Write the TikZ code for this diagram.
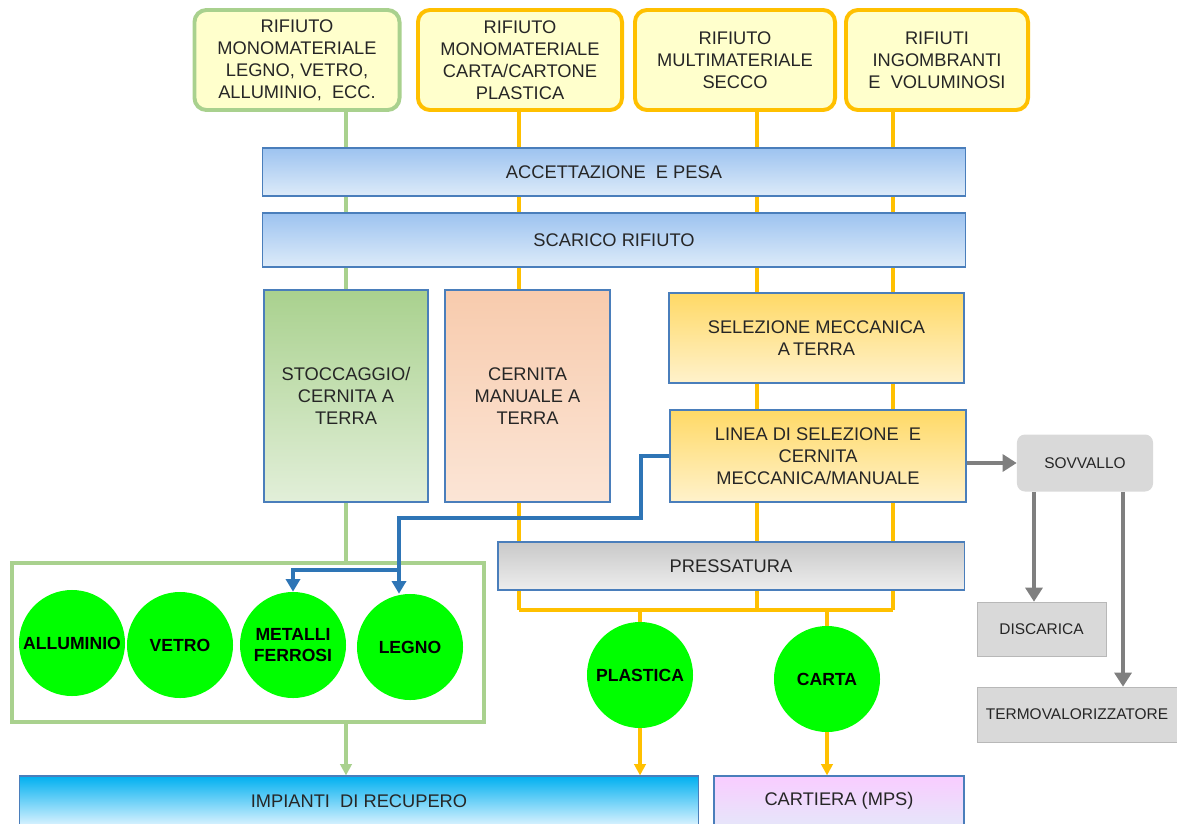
\documentclass[tikz,border=0pt]{standalone}
\usepackage{fontspec}
\setmainfont{Liberation Sans}
\usetikzlibrary{arrows.meta,backgrounds}

\definecolor{paleyellow}{HTML}{FFFFCC}
\definecolor{greenedge}{HTML}{A9D18E}
\definecolor{orangeedge}{HTML}{FFC000}
\definecolor{frameblue}{HTML}{4A7EBB}
\definecolor{txtgray}{HTML}{262626}
\definecolor{ballgreen}{HTML}{00FF00}
\definecolor{flowblue}{HTML}{2E75B6}
\definecolor{flowgray}{HTML}{7F7F7F}
\definecolor{boxgray}{HTML}{D9D9D9}
\definecolor{bluetop}{HTML}{9DC3F0}
\definecolor{bluebot}{HTML}{DDEBF9}
\definecolor{greentop}{HTML}{A9D18E}
\definecolor{greenbot}{HTML}{E2EFD9}
\definecolor{peachtop}{HTML}{F8CBAD}
\definecolor{peachmid}{HTML}{F4B183}
\definecolor{peachbot}{HTML}{FBE5D6}
\definecolor{yellowtop}{HTML}{FFD966}
\definecolor{yellowbot}{HTML}{FFF2CC}
\definecolor{graytop}{HTML}{C9C9C9}
\definecolor{graybot}{HTML}{EDEDED}
\definecolor{cyantop}{HTML}{00B0F0}
\definecolor{cyanmid}{HTML}{CCFCFF}
\definecolor{cyanbot}{HTML}{DDF3FF}
\definecolor{pinktop}{HTML}{F9CCFF}
\definecolor{pinkbot}{HTML}{E6E6FA}

\begin{document}
\begin{tikzpicture}[x=0.025cm,y=-0.025cm,
  every node/.style={font=\fontsize{13}{15.6}\selectfont,text=txtgray,align=center,inner sep=0pt},
  topbox/.style={draw,rounded corners=0.3cm,line width=2.8pt,fill=paleyellow,minimum height=2.5cm},
  phase/.style={draw=frameblue,line width=0.8pt},
  bluebar/.style={phase,minimum width=17.55cm,top color=bluetop,bottom color=bluebot},
  ball/.style={circle,fill=ballgreen,minimum size=2.65cm,font=\bfseries\fontsize{12.5}{15}\selectfont,text=black},
  greyout/.style={fill=boxgray,font=\fontsize{11}{13}\selectfont},
  greenline/.style={draw=greenedge,line width=2.8pt},
  orangeline/.style={draw=orangeedge,line width=2.8pt},
  bluearrow/.style={draw=flowblue,line width=2.8pt,-{Triangle[length=9pt,width=10pt]}},
  grayarrow/.style={draw=flowgray,line width=2.8pt,-{Triangle[length=10pt,width=12pt]}}
]
\useasboundingbox (0,0) rectangle (1177,823);

% waste streams
\node[topbox,draw=greenedge,minimum width=5.125cm] (rmono) at (297,60) {RIFIUTO\\MONOMATERIALE\\LEGNO, VETRO,\\ALLUMINIO,\ \ ECC.};
\node[topbox,draw=orangeedge,minimum width=5.1cm] (rcarta) at (520,60) {RIFIUTO\\MONOMATERIALE\\CARTA/CARTONE\\PLASTICA};
\node[topbox,draw=orangeedge,minimum width=5.0cm] (rmulti) at (735,60) {RIFIUTO\\MULTIMATERIALE\\SECCO};
\node[topbox,draw=orangeedge,minimum width=4.55cm] (ringo) at (937,60) {RIFIUTI\\INGOMBRANTI\\E\ \ VOLUMINOSI};

% plant steps
\node[bluebar,minimum height=1.2cm] (pesa) at (614,172) {ACCETTAZIONE\ \ E PESA};
\node[bluebar,minimum height=1.35cm] (scarico) at (614,240) {SCARICO RIFIUTO};
\node[phase,top color=greentop,bottom color=greenbot,minimum width=4.1cm,minimum height=5.3cm] (stocc) at (346,396) {STOCCAGGIO/\\CERNITA A\\TERRA};
\node[phase,top color=peachtop,middle color=peachmid,bottom color=peachbot,minimum width=4.125cm,minimum height=5.3cm] (cernita) at (527.5,396) {CERNITA\\MANUALE A\\TERRA};
\node[phase,top color=yellowtop,bottom color=yellowbot,minimum width=7.375cm,minimum height=2.25cm] (selez) at (816.5,338) {SELEZIONE MECCANICA\\A\,TERRA};
\node[phase,top color=yellowtop,bottom color=yellowbot,minimum width=7.4cm,minimum height=2.3cm] (linea) at (818,456) {LINEA DI SELEZIONE\ \ E\\CERNITA\\MECCANICA/MANUALE};
\node[phase,top color=graytop,bottom color=graybot,minimum width=11.65cm,minimum height=1.2cm] (press) at (731,566) {PRESSATURA};

% recovered materials
\node[draw=greenedge,line width=2.8pt,minimum width=11.8cm,minimum height=3.975cm] (gruppo) at (248,642.5) {};
\node[ball] (allum) at (72,643) {ALLUMINIO};
\node[ball] (vetro) at (180,645) {VETRO};
\node[ball] (metalli) at (293,645) {METALLI\\FERROSI};
\node[ball] (legno) at (410,647) {LEGNO};
\node[ball] (plastica) at (640,675) {PLASTICA};
\node[ball] (carta) at (827,679) {CARTA};

% destinations
\node[phase,top color=cyantop,middle color=cyanmid,bottom color=cyanbot,minimum width=16.95cm,minimum height=1.25cm] (impianti) at (359,801) {IMPIANTI\ \ DI RECUPERO};
\node[phase,top color=pinktop,bottom color=pinkbot,minimum width=6.25cm,minimum height=1.25cm] (cartiera) at (839,801) {CARTIERA (MPS)};
\node[greyout,rounded corners=0.2cm,minimum width=3.4cm,minimum height=1.425cm] (sovvallo) at (1085,463) {SOVVALLO};
\node[greyout,draw=boxgray!85!black,line width=0.4pt,minimum width=3.225cm,minimum height=1.35cm] (discarica) at (1041.5,629) {DISCARICA};
\node[greyout,draw=boxgray!85!black,line width=0.4pt,minimum width=5.0cm,minimum height=1.375cm] (termo) at (1077,714.5) {TERMOVALORIZZATORE};

\coordinate (busw) at (519,610);
\coordinate (busm) at (757,610);
\coordinate (buse) at (893,610);
\coordinate (bend) at (641,518);
\coordinate (fork) at (399,570);

\begin{scope}[on background layer]
  \draw[greenline] (rmono.south -| stocc) -- (gruppo.north -| stocc);
  \draw[orangeline] (rcarta.south -| busw) -- (busw);
  \draw[orangeline] (rmulti.south -| busm) -- (busm);
  \draw[orangeline] (ringo.south -| buse) -- (buse);
  \draw[orangeline] (busw) -- (buse);
  \draw[orangeline] (plastica.north |- busw) -- (plastica.north);
  \draw[orangeline] (carta.north |- busw) -- (carta.north);
\end{scope}

\draw[greenline,-{Triangle[length=8pt,width=8pt]}] (gruppo.south -| stocc) -- (impianti.north -| stocc);
\draw[orangeline,-{Triangle[length=8pt,width=8pt]}] (plastica.south) -- (plastica.south |- impianti.north);
\draw[orangeline,-{Triangle[length=8pt,width=8pt]}] (carta.south) -- (carta.south |- cartiera.north);

\draw[bluearrow] (linea.west) -| (bend) -| (fork) -- (fork |- legno.north);
\draw[bluearrow] (fork) -| (metalli.north);

\draw[grayarrow] (linea.east |- sovvallo) -- (sovvallo.west);
\draw[grayarrow] ([xshift=-1.275cm]sovvallo.south) -- ([xshift=-1.275cm]sovvallo.south |- discarica.north);
\draw[grayarrow] ([xshift=0.95cm]sovvallo.south) -- ([xshift=0.95cm]sovvallo.south |- termo.north);
\end{tikzpicture}
\end{document}
